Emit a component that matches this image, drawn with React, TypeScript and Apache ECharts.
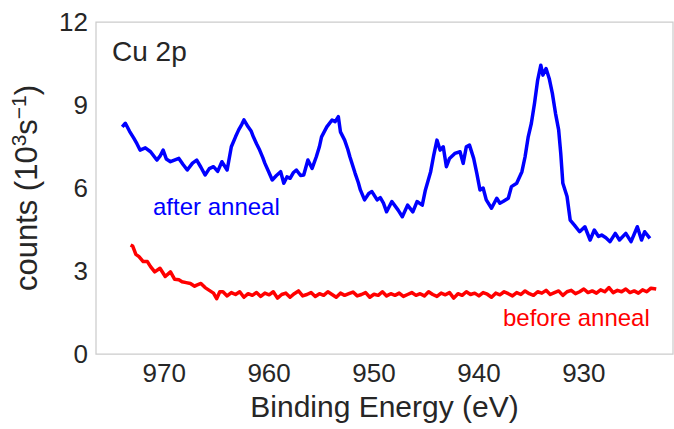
import React, { useEffect, useRef } from "react";
import * as echarts from "echarts";

const xTicks = [930, 940, 950, 960, 970];
const yTicks = [0, 3, 6, 9, 12];

const afterE = [
  974.0, 973.7, 973.3, 972.9, 972.6, 972.3, 971.8, 971.3, 970.7, 970.4, 970.1, 969.8, 969.4, 968.6, 968.2,
  967.8, 967.3, 966.9, 966.5, 966.1, 965.7, 965.3, 964.9, 964.5, 964.0, 963.6, 963.2, 962.9, 962.6, 962.4,
  962.0, 961.7, 961.5, 961.2, 960.9, 960.6, 960.4, 960.0, 959.7, 959.3, 958.9, 958.6, 958.3, 958.0, 957.7,
  957.4, 957.0, 956.7, 956.3, 955.9, 955.5, 955.2, 955.0, 954.5, 954.0, 953.7, 953.4, 953.2, 952.8, 952.5,
  952.3, 951.8, 951.5, 951.3, 950.9, 950.5, 950.2, 949.7, 949.4, 949.1, 948.8, 948.3, 947.7, 947.3, 946.8,
  946.3, 945.9, 945.4, 945.1, 944.6, 944.3, 944.0, 943.7, 943.4, 943.1, 942.8, 942.3, 941.8, 941.5, 941.2,
  940.9, 940.5, 940.2, 939.9, 939.6, 939.3, 938.8, 938.3, 938.0, 937.7, 937.2, 936.9, 936.4, 935.9, 935.6,
  935.3, 935.0, 934.7, 934.4, 934.1, 933.9, 933.6, 933.3, 933.0, 932.7, 932.4, 932.2, 932.0, 931.6, 931.3,
  930.9, 930.4, 929.9, 929.4, 929.0, 928.6, 928.3, 927.9, 927.5, 927.0, 926.6, 926.0, 925.5, 924.9, 924.5,
  924.2, 923.7,
];
const afterCounts = [
  8.21, 8.34, 8.05, 7.8, 7.6, 7.37, 7.45, 7.31, 7.01, 7.15, 7.37, 7.05, 6.95, 7.07, 6.85,
  6.65, 6.9, 7.01, 6.75, 6.47, 6.7, 6.77, 6.6, 6.95, 6.65, 7.49, 7.85, 8.1, 8.3, 8.46,
  8.21, 8.05, 7.85, 7.6, 7.37, 7.1, 6.89, 6.55, 6.29, 6.45, 6.59, 6.17, 6.4, 6.35, 6.55,
  6.65, 6.45, 6.47, 7.01, 6.71, 7.13, 7.5, 7.85, 8.21, 8.46, 8.4, 8.58, 8.03, 7.73, 7.4,
  7.13, 6.53, 6.2, 5.93, 5.57, 5.8, 5.87, 5.57, 5.65, 5.45, 5.14, 5.51, 5.2, 4.96, 5.38,
  5.14, 5.51, 5.38, 5.93, 6.59, 7.2, 7.73, 7.37, 7.49, 6.77, 7.07, 7.25, 7.31, 6.89, 7.49,
  7.55, 7.07, 6.53, 5.93, 6.0, 5.57, 5.27, 5.63, 5.45, 5.51, 5.63, 6.05, 6.17, 6.59, 7.13,
  7.85, 8.34, 9.06, 9.9, 10.44, 10.08, 10.32, 9.96, 9.42, 8.7, 8.1, 7.25, 6.17, 5.69, 4.84,
  4.66, 4.42, 4.6, 4.12, 4.48, 4.25, 4.3, 4.2, 4.06, 4.36, 4.12, 4.36, 4.06, 4.6, 4.12,
  4.42, 4.18,
];

const beforeE = [
  973.2, 973.0, 972.7, 972.4, 972.0, 971.6, 971.3, 970.9, 970.4, 969.9, 969.4, 969.0, 968.6, 968.3, 967.9,
  967.5, 967.1, 966.9, 966.5, 966.1, 965.7, 965.3, 965.0, 964.7, 964.4, 964.0, 963.6, 963.2, 962.8, 962.4,
  962.0, 961.6, 961.2, 960.8, 960.4, 960.0, 959.6, 959.2, 958.8, 958.4, 958.0, 957.6, 957.2, 956.8, 956.4,
  956.0, 955.6, 955.2, 954.8, 954.4, 954.0, 953.6, 953.2, 952.8, 952.4, 952.0, 951.6, 951.2, 950.8, 950.4,
  950.0, 949.6, 949.2, 948.8, 948.4, 948.0, 947.6, 947.2, 946.8, 946.4, 946.0, 945.6, 945.2, 944.8, 944.4,
  944.0, 943.6, 943.2, 942.8, 942.4, 942.0, 941.6, 941.2, 940.8, 940.4, 940.0, 939.6, 939.2, 938.8, 938.4,
  938.0, 937.6, 937.2, 936.8, 936.4, 936.0, 935.6, 935.2, 934.8, 934.4, 934.0, 933.6, 933.2, 932.8, 932.4,
  932.0, 931.6, 931.2, 930.8, 930.4, 930.0, 929.6, 929.2, 928.8, 928.4, 928.0, 927.6, 927.2, 926.8, 926.4,
  926.0, 925.6, 925.2, 924.8, 924.4, 924.0, 923.6, 923.1,
];
const beforeCounts = [
  3.94, 3.9, 3.6, 3.52, 3.34, 3.34, 3.16, 2.97, 3.1, 2.8, 2.97, 2.7, 2.68, 2.61, 2.58,
  2.55, 2.45, 2.49, 2.55, 2.4, 2.3, 2.2, 2.0, 2.25, 2.25, 2.1, 2.22, 2.15, 2.25, 2.05,
  2.18, 2.12, 2.22, 2.08, 2.2, 2.14, 2.25, 2.02, 2.15, 2.2, 2.05, 2.18, 2.28, 2.1, 2.15,
  2.22, 2.08, 2.18, 2.12, 2.25, 2.15, 2.05, 2.2, 2.12, 2.18, 2.24, 2.1, 2.15, 2.22, 2.05,
  2.16, 2.12, 2.25, 2.1, 2.18, 2.12, 2.2, 2.08, 2.15, 2.22, 2.12, 2.18, 2.1, 2.25, 2.15,
  2.08, 2.2, 2.14, 2.22, 2.02, 2.18, 2.12, 2.25, 2.15, 2.2, 2.1, 2.22, 2.16, 2.05, 2.2,
  2.14, 2.25, 2.18, 2.1, 2.22, 2.15, 2.28, 2.18, 2.12, 2.25, 2.2, 2.3, 2.15, 2.22, 2.28,
  2.12, 2.25, 2.3, 2.18, 2.25, 2.35, 2.22, 2.28, 2.2, 2.32, 2.25, 2.4, 2.22, 2.3, 2.25,
  2.35, 2.22, 2.28, 2.2, 2.32, 2.25, 2.38, 2.35,
];

const FONT = "'Liberation Sans', Arial, sans-serif";
const TEXT = "#262626";

export default function App() {
  const ref = useRef<HTMLDivElement>(null);
  useEffect(() => {
    document.body.style.margin = "0";
    const chart = echarts.init(ref.current!, undefined, { renderer: "svg" });
    chart.setOption({
      animation: false,
      backgroundColor: "#ffffff",
      textStyle: { fontFamily: FONT },
      grid: {
        left: 96,
        right: 1,
        top: 22,
        bottom: 75,
        show: true,
        borderColor: "#cccccc",
        borderWidth: 1.25,
        containLabel: false,
      },
      xAxis: {
        type: "value",
        inverse: true,
        min: 921.5,
        max: 976.5,
        name: "Binding Energy (eV)",
        nameLocation: "middle",
        nameGap: 37,
        nameTextStyle: { fontSize: 30, color: TEXT, fontFamily: FONT },
        axisLine: { show: false },
        axisTick: { show: false },
        splitLine: { show: false },
        axisLabel: {
          customValues: xTicks,
          fontSize: 26,
          color: TEXT,
          fontFamily: FONT,
          margin: 6,
        },
      },
      yAxis: {
        type: "value",
        min: yTicks[0],
        max: yTicks[yTicks.length - 1],
        interval: 3,
        name: "{a|counts (10}{sup|3}{a|s}{sup|−1}{a|)}",
        nameLocation: "middle",
        nameGap: 52,
        nameTextStyle: {
          color: TEXT,
          fontFamily: FONT,
          rich: {
            a: { fontSize: 31, lineHeight: 36, color: TEXT, fontFamily: FONT },
            sup: { fontSize: 21, lineHeight: 20, verticalAlign: "top", color: TEXT, fontFamily: FONT },
          },
        },
        axisLine: { show: false },
        axisTick: { show: false },
        splitLine: { show: false },
        axisLabel: { fontSize: 26, color: TEXT, fontFamily: FONT, margin: 8 },
      },
      series: [
        {
          type: "line",
          name: "after anneal",
          data: afterE.map((e, i) => [e, afterCounts[i]]),
          showSymbol: false,
          symbol: "none",
          lineStyle: { color: "#0000ff", width: 3.5, join: "round" },
        },
        {
          type: "line",
          name: "before anneal",
          data: beforeE.map((e, i) => [e, beforeCounts[i]]),
          showSymbol: false,
          symbol: "none",
          lineStyle: { color: "#ff0000", width: 3.5, join: "round" },
        },
      ],
      graphic: [
        {
          type: "text",
          x: 112,
          y: 51,
          style: { text: "Cu 2p", fontSize: 28, fill: TEXT, fontFamily: FONT, verticalAlign: "middle" },
        },
        {
          type: "text",
          x: 153,
          y: 206,
          style: { text: "after anneal", fontSize: 24, fill: "#0000ff", fontFamily: FONT, verticalAlign: "middle" },
        },
        {
          type: "text",
          x: 503,
          y: 317,
          style: { text: "before anneal", fontSize: 24, fill: "#ff0000", fontFamily: FONT, verticalAlign: "middle" },
        },
      ],
    });
    return () => chart.dispose();
  }, []);
  return (
    <div
      ref={ref}
      style={{ position: "absolute", left: 0, top: 0, width: 674, height: 429 }}
    />
  );
}
